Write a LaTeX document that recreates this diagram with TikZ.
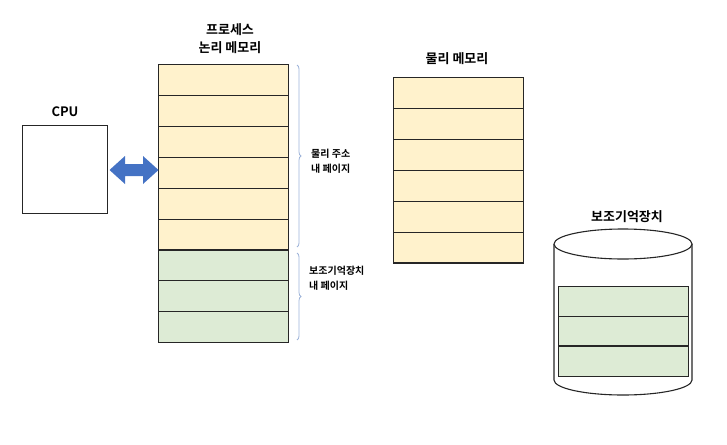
\documentclass[tikz,border=0pt]{standalone}
\usepackage{fontspec}
\setmainfont{Noto Sans CJK KR}
\newfontfamily\krb{Noto Sans CJK KR Bold}
\usetikzlibrary{shapes.arrows,shapes.geometric,decorations.pathreplacing}
\definecolor{pageY}{HTML}{FFF2CC}
\definecolor{pageG}{HTML}{DDEBD5}
\definecolor{arrowB}{HTML}{4472C4}
\definecolor{braceC}{HTML}{9DB3D9}
\tikzset{
  pageY/.style={draw=black!85, line width=1.1pt, fill=pageY, minimum width=130pt, minimum height=30.9pt, inner sep=0pt, anchor=north west},
  pageG/.style={pageY, fill=pageG},
  title/.style={font=\krb\fontsize{13pt}{18pt}\selectfont, align=center, inner sep=0pt},
  small/.style={font=\krb\fontsize{10pt}{15pt}\selectfont, align=left, inner sep=0pt, anchor=west},
  bracket/.style={braceC, line width=0.8pt, decorate, decoration={brace, amplitude=4pt}},
}
\begin{document}
\begin{tikzpicture}[x=1pt,y=-1pt]
\useasboundingbox (0,0) rectangle (727,444);
% CPU
\node[draw=black!85, line width=1.1pt, minimum width=85pt, minimum height=88pt, inner sep=0pt, anchor=north west] (cpu) at (22,125) {};
\node[title] (cputitle) at (65,112) {CPU};
% logical memory
\node[title] (lt) at (230,39) {프로세스\\논리 메모리};
\foreach \i in {0,...,5} {
  \node[pageY] (l\i) at (158,{64+30.9*\i}) {};
}
\foreach \i in {6,7,8} {
  \node[pageG] (l\i) at (158,{64+30.9*\i}) {};
}
% arrow (block double arrow between CPU and logical memory)
\fill[arrowB] (109.5,170) -- (125,156) -- (125,164) -- (143,164) -- (143,156) -- (158.5,170)
  -- (143,184) -- (143,176) -- (125,176) -- (125,184) -- cycle;
% braces
\draw[bracket] (297,65) -- (297,247) coordinate[midway] (b1);
\draw[bracket] (297,253) -- (297,340) coordinate[midway] (b2);
\node[small] (t1) at (311,161) {물리 주소\\내 페이지};
\node[small] (t2) at (309,278) {보조기억장치\\내 페이지};
% physical memory
\node[title] (pt) at (457,59) {물리 메모리};
\foreach \i in {0,...,5} {
  \node[pageY] (p\i) at (393,{77+30.9*\i}) {};
}
% disk
\node[title] (dt) at (627,217) {보조기억장치};
\draw[black!85, line width=1.1pt, fill=white] (554,244) -- (554,380) arc[start angle=180, end angle=0, x radius=69, y radius=15] -- (692,244);
\draw[black!85, line width=1.1pt, fill=white] (623,244) ellipse[x radius=69, y radius=15];
\foreach \i in {0,1,2} {
  \node[pageG] (d\i) at (558,{286+29.7*\i}) {};
}
\end{tikzpicture}
\end{document}
